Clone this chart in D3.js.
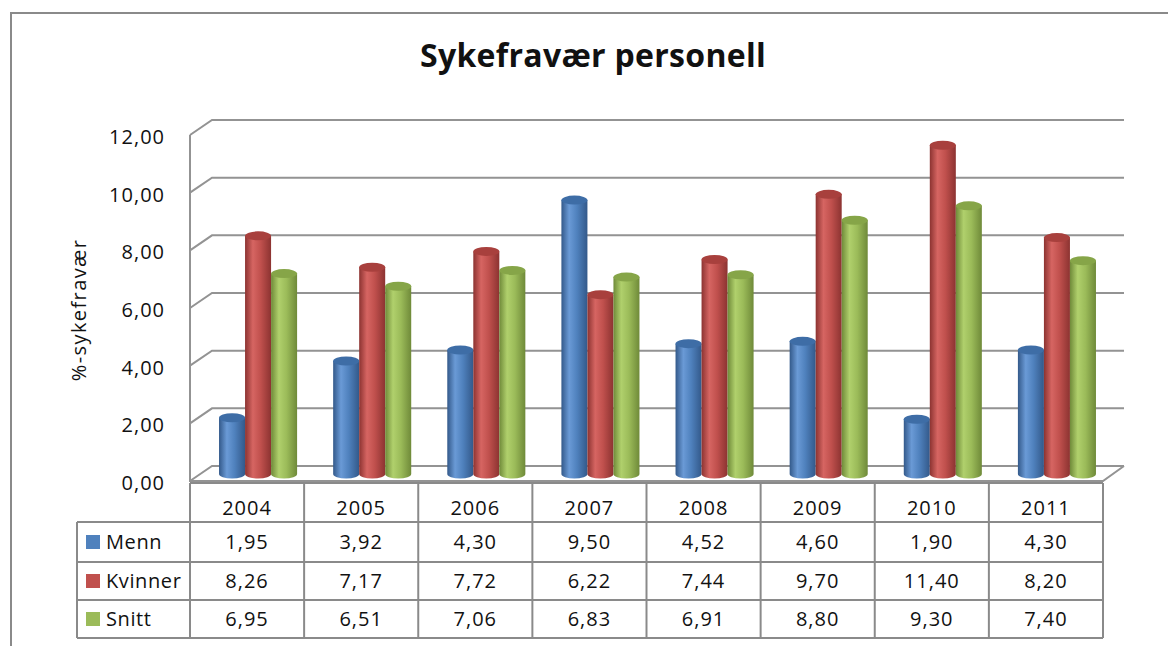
<!DOCTYPE html>
<html>
<head>
<meta charset="utf-8">
<script src="https://cdn.jsdelivr.net/npm/d3@7"></script>
<style>
  body { margin: 0; background: #fff; }
  text { font-family: "Open Sans", "Noto Sans", sans-serif; fill: #111; }
</style>
</head>
<body>
<svg id="chart" width="1168" height="646"></svg>
<script>
var years = ["2004", "2005", "2006", "2007", "2008", "2009", "2010", "2011"];
var seriesNames = ["Menn", "Kvinner", "Snitt"];
var menn = [1.95, 3.92, 4.30, 9.50, 4.52, 4.60, 1.90, 4.30];
var kvinner = [8.26, 7.17, 7.72, 6.22, 7.44, 9.70, 11.40, 8.20];
var snitt = [6.95, 6.51, 7.06, 6.83, 6.91, 8.80, 9.30, 7.40];
var yTicks = [0, 2, 4, 6, 8, 10, 12];

var colors = {
  Menn:    {base: "#4f81bd", light: "#6a9ad6", dark: "#33598a", top: "#3e6da6"},
  Kvinner: {base: "#c0504d", light: "#d66562", dark: "#8c3331", top: "#a8403d"},
  Snitt:   {base: "#9bbb59", light: "#b0d06c", dark: "#6f8a39", top: "#86a548"}
};
var values = {Menn: menn, Kvinner: kvinner, Snitt: snitt};

var svg = d3.select("#chart");
var grid = "#939393";
var loc = d3.formatLocale({decimal: ",", thousands: " ", grouping: [3], currency: ["", ""]});
var fmt = loc.format(".2f");

// geometry of the 3d box
var left = 190, right = 1103, depthX = 22, depthY = 15;
var yFront = d3.scaleLinear().domain([0, 12]).range([481, 135]);
var yBack = d3.scaleLinear().domain([0, 12]).range([466, 120]);
var yBar = d3.scaleLinear().domain([0, 12]).range([474, 128]);

var x0 = d3.scaleBand().domain(years).range([left + 11, right + 11])
    .paddingInner(0.316).paddingOuter(0.158);
var x1 = d3.scaleBand().domain(seriesNames).range([0, x0.bandwidth()]);
var xCol = d3.scaleBand().domain(years).range([left, right]);

// outer frame
svg.append("path").attr("d", "M11,646 V13 H1168")
  .attr("fill", "none").attr("stroke", "#8a8a8a").attr("stroke-width", 2);

// title
svg.append("text").attr("x", 593).attr("y", 67).attr("text-anchor", "middle")
  .style("font-size", "32px").style("font-weight", "bold").style("letter-spacing", "0.3px")
  .text("Sykefravær personell");

// walls
var walls = svg.append("g").attr("fill", "none").attr("stroke", grid).attr("stroke-width", 2);
yTicks.forEach(function(t) {
  walls.append("path").attr("d", "M" + left + "," + yFront(t) + " L" + (left + depthX) + "," + yBack(t) +
    " H" + (right + depthX - 1));
});
walls.append("line").attr("x1", left).attr("x2", left).attr("y1", yFront(12)).attr("y2", yFront(0) + 1);
walls.append("path").attr("d", "M" + (right + depthX - 1) + "," + yBack(0) + " L" + right + "," + yFront(0) + " H" + left);

// y axis labels
svg.append("g").selectAll("text").data(yTicks).join("text")
  .attr("x", 165).attr("y", function(d) { return yFront(d) + 2; })
  .attr("dy", "0.35em").attr("text-anchor", "end")
  .style("font-size", "20px").style("letter-spacing", "1px")
  .text(function(d) { return fmt(d); });

svg.append("text").attr("transform", "translate(86,310) rotate(-90)")
  .attr("text-anchor", "middle").style("font-size", "20px").style("letter-spacing", "1.4px")
  .text("%-sykefravær");

// gradients for cylinders
var defs = svg.append("defs");
seriesNames.forEach(function(s, i) {
  var c = colors[s];
  var g = defs.append("linearGradient").attr("id", "grad" + i).attr("x1", "0").attr("x2", "1").attr("y1", "0").attr("y2", "0");
  g.append("stop").attr("offset", "0%").attr("stop-color", c.dark);
  g.append("stop").attr("offset", "30%").attr("stop-color", c.light);
  g.append("stop").attr("offset", "60%").attr("stop-color", c.base);
  g.append("stop").attr("offset", "100%").attr("stop-color", c.dark);
});

// cylinders
var ry = 4.5;
var groups = svg.append("g").selectAll("g").data(years).join("g")
  .attr("transform", function(d) { return "translate(" + x0(d) + ",0)"; });

groups.each(function(yr, yi) {
  var gg = d3.select(this);
  seriesNames.forEach(function(s, si) {
    var v = values[s][yi];
    var bx = x1(s), w = x1.bandwidth(), yt = yBar(v), yb = yBar(0);
    gg.append("path")
      .attr("d", "M" + bx + "," + yt + " L" + bx + "," + yb +
        " A" + (w / 2) + "," + ry + " 0 0 0 " + (bx + w) + "," + yb +
        " L" + (bx + w) + "," + yt + " Z")
      .attr("fill", "url(#grad" + si + ")");
    gg.append("ellipse").attr("cx", bx + w / 2).attr("cy", yt)
      .attr("rx", w / 2).attr("ry", ry).attr("fill", colors[s].top);
  });
});

// data table
var rowTop = [483, 522, 562, 600, 638];
var legLeft = 77;
var tbl = svg.append("g").attr("fill", "none").attr("stroke", "#8a8a8a").attr("stroke-width", 2);
tbl.append("line").attr("x1", left).attr("x2", right).attr("y1", rowTop[0]).attr("y2", rowTop[0]);
rowTop.slice(1).forEach(function(r) {
  tbl.append("line").attr("x1", legLeft).attr("x2", right).attr("y1", r).attr("y2", r);
});
years.forEach(function(yr) {
  tbl.append("line").attr("x1", xCol(yr)).attr("x2", xCol(yr)).attr("y1", rowTop[0]).attr("y2", rowTop[4]);
});
tbl.append("line").attr("x1", right).attr("x2", right).attr("y1", rowTop[0]).attr("y2", rowTop[4]);
tbl.append("line").attr("x1", legLeft).attr("x2", legLeft).attr("y1", rowTop[1]).attr("y2", rowTop[4]);

svg.append("g").selectAll("text").data(years).join("text")
  .attr("x", function(d) { return xCol(d) + xCol.bandwidth() / 2; })
  .attr("y", 515).attr("text-anchor", "middle")
  .style("font-size", "20px").style("letter-spacing", "1px").text(function(d) { return d; });

seriesNames.forEach(function(s, si) {
  var cy = (rowTop[si + 1] + rowTop[si + 2]) / 2;
  svg.append("rect").attr("x", 86).attr("y", cy - 7).attr("width", 14).attr("height", 14)
    .attr("fill", colors[s].base);
  svg.append("text").attr("x", 106).attr("y", cy).attr("dy", "0.36em")
    .style("font-size", "20px").style("letter-spacing", "0.6px").text(s);
  svg.append("g").selectAll("text").data(values[s]).join("text")
    .attr("x", function(d, i) { return xCol(years[i]) + xCol.bandwidth() / 2; })
    .attr("y", cy).attr("dy", "0.36em").attr("text-anchor", "middle")
    .style("font-size", "20px").style("letter-spacing", "1px")
    .text(function(d) { return fmt(d); });
});
</script>
</body>
</html>
